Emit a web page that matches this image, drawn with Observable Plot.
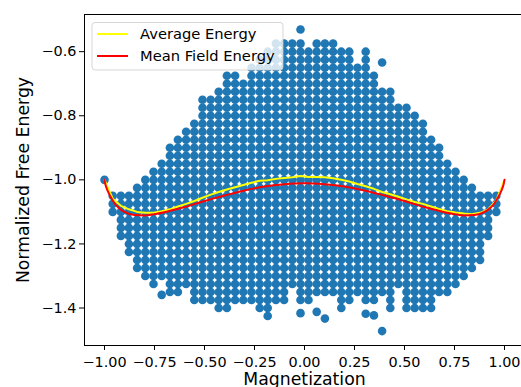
<!DOCTYPE html>
<html><head><meta charset="utf-8">
<script src="https://cdn.jsdelivr.net/npm/d3@7"></script>
<script src="https://cdn.jsdelivr.net/npm/@observablehq/plot@0.6"></script>
<style>
html,body{margin:0;padding:0;background:#fff;}
#wrap{position:relative;width:521px;height:387px;overflow:hidden;font-family:"DejaVu Sans",sans-serif;}
</style></head><body>
<div id="wrap"></div>
<script>
// Magnetization columns (N = 49 spins)
const magnetization = [-1.000,-0.959,-0.918,-0.878,-0.837,-0.796,-0.755,-0.714,-0.673,-0.633,
  -0.592,-0.551,-0.510,-0.469,-0.429,-0.388,-0.347,-0.306,-0.265,-0.224,
  -0.184,-0.143,-0.102,-0.061,-0.020,0.020,0.061,0.102,0.143,0.184,
  0.224,0.265,0.306,0.347,0.388,0.429,0.469,0.510,0.551,0.592,
  0.633,0.673,0.714,0.755,0.796,0.837,0.878,0.918,0.959,1.000];
// Highest and lowest sampled energy in each column (null: no samples)
const colTop = [-1.000,-1.044,-1.047,-1.041,-1.028,-1.003,-0.963,-0.947,-0.909,-0.884,
  -0.853,-0.817,-0.759,-0.744,-0.725,-0.681,-0.681,-0.697,-0.659,-0.634,
  -0.603,-0.566,-0.572,-0.575,-0.578,-0.603,-0.575,-0.570,-0.566,-0.602,
  -0.591,-0.647,-0.606,-0.681,-0.727,-0.727,-0.763,-0.763,-0.800,-0.831,
  -0.883,-0.912,-0.950,-0.969,-1.003,-1.028,-1.050,-1.055,-1.053,null];
const colBottom = [-1.000,-1.097,-1.175,-1.217,-1.269,-1.290,-1.326,-1.309,-1.338,-1.338,
  -1.331,-1.373,-1.383,-1.368,-1.397,-1.397,-1.373,-1.369,-1.366,-1.403,
  -1.416,-1.378,-1.383,-1.316,-1.368,-1.368,-1.341,-1.362,-1.347,-1.391,
  -1.380,-1.362,-1.372,-1.372,-1.353,-1.396,-1.322,-1.407,-1.397,-1.406,
  -1.412,-1.362,-1.362,-1.328,-1.293,-1.263,-1.243,-1.175,-1.097,null];
// Energy spacing of the sampled levels
const energyOrigin = -1.0;
const energyStep = 0.025;
// Isolated samples
const isoMag    = [-0.714,-0.020,-0.020,0.061,0.102,0.306,0.347,0.388,0.388];
const isoEnergy = [-1.359,-0.531,-1.416,-1.412,-1.433,-1.418,-1.423,-1.472,-0.634];
// Average energy per magnetization
const avgEnergy = [-1.000,-1.059,-1.081,-1.092,-1.100,-1.103,-1.103,-1.098,-1.092,-1.083,
  -1.075,-1.066,-1.056,-1.046,-1.038,-1.030,-1.023,-1.016,-1.009,-1.003,
  -1.001,-0.997,-0.994,-0.992,-0.988,-0.991,-0.991,-0.992,-0.995,-1.000,
  -1.005,-1.013,-1.020,-1.028,-1.038,-1.045,-1.053,-1.061,-1.069,-1.075,
  -1.083,-1.091,-1.098,-1.102,-1.105,-1.107,-1.103,-1.092,-1.064,-1.000];
// Mean field energy curve
const mfMag = [-1,-0.995,-0.99,-0.98,-0.97,-0.95,-0.93,-0.9,-0.85,-0.8,-0.75,-0.7,-0.6,-0.5,-0.4,-0.3,-0.2,-0.1,0,
  0.1,0.2,0.3,0.4,0.5,0.6,0.7,0.75,0.8,0.85,0.9,0.93,0.95,0.97,0.98,0.99,0.995,1];
const mfEnergy = [-1.000,-1.015,-1.025,-1.040,-1.052,-1.073,-1.087,-1.100,-1.110,-1.111,-1.107,-1.101,-1.085,-1.066,-1.049,-1.033,-1.021,-1.014,-1.011,
  -1.014,-1.021,-1.033,-1.049,-1.066,-1.085,-1.101,-1.107,-1.111,-1.110,-1.100,-1.087,-1.073,-1.052,-1.040,-1.025,-1.015,-1.000];

const xTicks = [-1,-0.75,-0.5,-0.25,0,0.25,0.5,0.75,1];
const yTicks = [-1.4,-1.2,-1.0,-0.8,-0.6];
const xLabel = "Magnetization";
const yLabel = "Normalized Free Energy";
const seriesNames = ["Average Energy","Mean Field Energy"];
const seriesColors = ["yellow","red"];

const points = [];
magnetization.forEach((m,k)=>{
  if (colTop[k] == null) return;
  const j0 = Math.round((colBottom[k]-energyOrigin)/energyStep);
  const j1 = Math.round((colTop[k]-energyOrigin)/energyStep);
  for (let j=j0;j<=j1;j++) points.push({m, e: energyOrigin + j*energyStep});
});
isoMag.forEach((m,i)=>points.push({m, e: isoEnergy[i]}));
const avg = magnetization.map((m,i)=>({m, e: avgEnergy[i]}));
const mf = mfMag.map((m,i)=>({m, e: mfEnergy[i]}));

const chart = Plot.plot({
  width: 521, height: 387,
  marginLeft: 84, marginRight: -3, marginTop: 14, marginBottom: 42,
  style: {fontFamily: '"DejaVu Sans", sans-serif', fontSize: "14.4px", color: "black", background: "white", overflow: "hidden"},
  x: {domain: [-1.1, 1.1]},
  y: {domain: [-1.517, -0.484]},
  marks: [
    Plot.dot(points, {x: "m", y: "e", r: 4.3, fill: "#1f77b4"}),
    Plot.line(avg, {x: "m", y: "e", stroke: seriesColors[0], strokeWidth: 2}),
    Plot.line(mf, {x: "m", y: "e", stroke: seriesColors[1], strokeWidth: 2, curve: "monotone-x"}),
    Plot.frame({stroke: "black", strokeWidth: 1}),
    Plot.axisX({ticks: xTicks, tickFormat: d3.format(".2f"), tickSize: 5, tickPadding: 6, label: null, fontSize: 14.4}),
    Plot.axisY({ticks: yTicks, tickFormat: d3.format(".1f"), tickSize: 5, tickPadding: 3, label: null, fontSize: 14.4}),
    Plot.text([xLabel], {frameAnchor: "bottom", textAnchor: "middle", lineAnchor: "middle", dy: 34, fontSize: 17.3, text: d => d}),
    Plot.text([yLabel], {frameAnchor: "left", textAnchor: "middle", lineAnchor: "middle", dx: -61, rotate: -90, fontSize: 17.3, text: d => d})
  ]
});
const svg = d3.select(chart);
const axisTitles = new Set([xLabel, yLabel]);
svg.selectAll("text").each(function() {
  const size = axisTitles.has(this.textContent) ? "17.3px" : "14.4px";
  this.style.setProperty("font-size", size, "important");
});

// Legend (upper left, semi-transparent white box)
const lg = svg.append("g").attr("font-family", '"DejaVu Sans", sans-serif');
lg.append("rect").attr("x", 92).attr("y", 22.5).attr("width", 191).attr("height", 47.5).attr("rx", 3)
  .attr("fill", "white").attr("fill-opacity", 0.8).attr("stroke", "#cccccc").attr("stroke-opacity", 0.8);
const rowY = [34, 56];
seriesNames.forEach((name,i)=>{
  lg.append("line").attr("x1", 97).attr("x2", 128).attr("y1", rowY[i]).attr("y2", rowY[i])
    .attr("stroke", seriesColors[i]).attr("stroke-width", 2);
  lg.append("text").attr("x", 140).attr("y", rowY[i] + 4.8).attr("text-anchor", "start")
    .attr("fill", "black").style("font-size", "14.7px").text(name);
});
document.getElementById("wrap").appendChild(chart);
</script>
</body></html>
